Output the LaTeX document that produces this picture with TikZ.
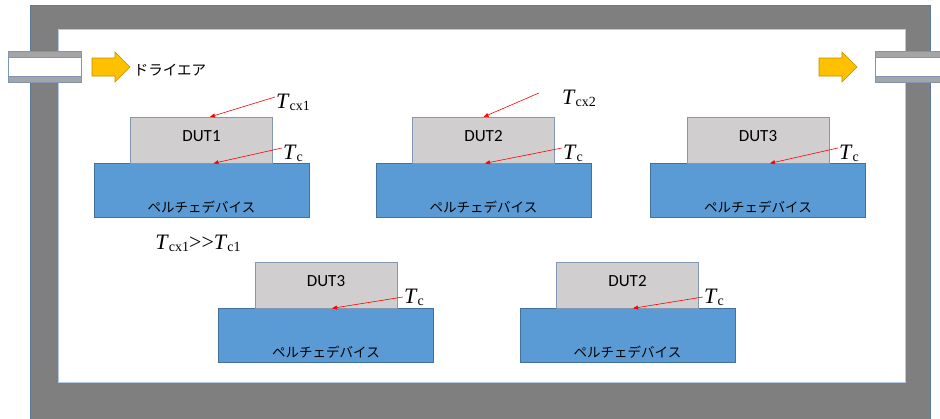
\documentclass[tikz,border=0pt]{standalone}
\usepackage{fontspec}
\setmainfont{Liberation Serif}
\newfontfamily\jpfont{Noto Sans CJK JP}
\newfontfamily\dutfont{Carlito}
\usetikzlibrary{positioning,arrows.meta}

\definecolor{wallgray}{HTML}{7F7F7F}
\definecolor{walledge}{HTML}{5B7A99}
\definecolor{inneredge}{HTML}{B4C7E7}
\definecolor{pipegray}{HTML}{A5A5A5}
\definecolor{pipeedge}{HTML}{7F96B3}
\definecolor{dutgray}{HTML}{D0CECE}
\definecolor{dutedge}{HTML}{8497B0}
\definecolor{peltblue}{HTML}{5B9BD5}
\definecolor{peltedge}{HTML}{41719C}
\definecolor{airorange}{HTML}{FFC000}
\definecolor{airedge}{HTML}{BF9000}

% temperature symbol with subscript
\newcommand{\Tsym}[1]{\textit{T}\raisebox{-2pt}{\fontsize{14}{14}\selectfont #1}}

\begin{document}
\begin{tikzpicture}[
		x=1pt, y=-1pt,
		peltier/.style={rectangle, draw=peltedge, fill=peltblue, inner sep=0pt,
			minimum width=215pt, minimum height=54pt,
			text height=44pt, text depth=0pt, font=\jpfont\fontsize{13.5}{13.5}\selectfont},
		dut/.style={rectangle, draw=dutedge, fill=dutgray, inner sep=0pt,
			minimum width=142pt, minimum height=46pt,
			text height=11.5pt, text depth=9pt, font=\dutfont\fontsize{17}{17}\selectfont},
		tlabel/.style={inner sep=1pt, font=\fontsize{22}{22}\selectfont},
		probe/.style={draw=red, line width=0.6pt, -{Triangle[length=5pt,width=4pt]}},
		airflow/.style={draw=airedge, fill=airorange, line width=0.6pt},
		pipe/.style={draw=pipeedge, fill=pipegray, line width=0.8pt}
		]
		\useasboundingbox (0,0) rectangle (940,418);
		% chamber wall
		\draw[draw=walledge, fill=wallgray, line width=0.8pt] (30,5) rectangle (930,425);
		\draw[draw=inneredge, fill=white, line width=0.8pt] (58,29) rectangle (905,382);
		% pipes and air flow
		\foreach \xa/\xb in {8/81, 875/941} {
			\draw[pipe] (\xa,51) rectangle (\xb,82);
			\draw[pipe, fill=white] (\xa,57) rectangle (\xb,76);
		}
		\foreach \x in {92, 819}
			\draw[airflow] (\x,58) -- ++(23,0) -- ++(0,-6) -- ++(15,15) -- ++(-15,15) -- ++(0,-6) -- ++(-23,0) -- cycle;
		\node[font=\jpfont\fontsize{14.5}{14.5}\selectfont] (air) at (170,70) {ドライエア};
		
		% peltier devices and DUTs
		\node[peltier] (pel1) at (201.5,190.5) {ペルチェデバイス};
		\node[peltier] (pel2) at (483.5,190.5) {ペルチェデバイス};
		\node[peltier] (pel3) at (758,190.5) {ペルチェデバイス};
		\node[peltier] (pel4) at (326,335.5) {ペルチェデバイス};
		\node[peltier] (pel5) at (627.5,335.5) {ペルチェデバイス};
		\node[dut, above=0pt of pel1] (dut1) {DUT1};
		\node[dut, above=0pt of pel2] (dut2) {DUT2};
		\node[dut, above=0pt of pel3] (dut3) {DUT3};
		\node[dut, above=0pt of pel4] (dut4) {DUT3};
		\node[dut, above=0pt of pel5] (dut5) {DUT2};
		
		% temperatures
		\node[tlabel] (tcx1) at (293,102) {\Tsym{cx1}};
		\node[tlabel] (tc1) at (293,153) {\Tsym{c}};
		\node[tlabel] (tcx2) at (579,98) {\Tsym{cx2}};
		\node[tlabel] (tc2) at (573,153) {\Tsym{c}};
		\node[tlabel] (tc3) at (849,153) {\Tsym{c}};
		\node[tlabel] (tc4) at (414,297) {\Tsym{c}};
		\node[tlabel] (tc5) at (714,297) {\Tsym{c}};
		\node[tlabel] (rel) at (198,243) {\Tsym{cx1}>{}>\Tsym{c1}};
		
		\draw[probe] ([yshift=5pt]tcx1.west) -- ([xshift=8.5pt]dut1.north);
		\draw[probe] ([yshift=5pt]tc1.west) -- ([xshift=12pt]pel1.north);
		\draw[probe] ([xshift=-22pt,yshift=5pt]tcx2.west) -- (dut2.north);
		\draw[probe] ([yshift=5pt]tc2.west) -- ([xshift=1.5pt]pel2.north);
		\draw[probe] ([yshift=5pt]tc3.west) -- ([xshift=12pt]pel3.north);
		\draw[probe] (tc4.west) -- ([xshift=6pt]pel4.north);
		\draw[probe] (tc5.west) -- ([xshift=5.5pt]pel5.north);
\end{tikzpicture}
\end{document}
